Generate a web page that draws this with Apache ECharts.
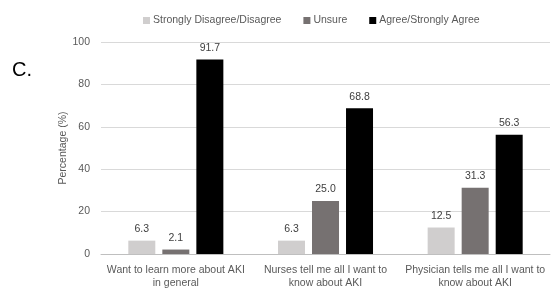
<!DOCTYPE html>
<html><head><meta charset="utf-8">
<script src="https://cdn.jsdelivr.net/npm/echarts@6/dist/echarts.min.js"></script>
<style>html,body{margin:0;padding:0;background:#fff}#c{width:554px;height:290px}</style>
</head><body><div id="c"></div>
<script>
const categories = ['Want to learn more about AKI\nin general', 'Nurses tell me all I want to\nknow about AKI', 'Physician tells me all I want to\nknow about AKI'];
const seriesNames = ['Strongly Disagree/Disagree', 'Unsure', 'Agree/Strongly Agree'];
const disagree = [6.3, 6.3, 12.5];
const unsure = [2.1, 25.0, 31.3];
const agree = [91.7, 68.8, 56.3];
const yTicks = [0, 20, 40, 60, 80, 100];

const colors = ['#d0cece', '#767171', '#000000'];
const font = 'Liberation Sans, sans-serif';
const chart = echarts.init(document.getElementById('c'), null, {renderer: 'canvas'});
const mk = (name, data, i) => ({
  name, type: 'bar', data, barWidth: 27, barGap: '26%',
  itemStyle: {color: colors[i]},
  label: {show: true, position: 'top', distance: 6, formatter: p => p.value.toFixed(1), color: '#404040', fontSize: 10.5, fontFamily: font}
});
chart.setOption({
  animation: false,
  textStyle: {fontFamily: font},
  graphic: [{type: 'text', left: 12, top: 60, style: {text: 'C.', font: '20px Liberation Sans, sans-serif', fill: '#000'}}],
  legend: {
    top: 10, left: 138, itemWidth: 7, itemHeight: 7, itemGap: 22,
    icon: 'rect', data: seriesNames,
    textStyle: {color: '#595959', fontSize: 10.5, fontFamily: font, padding: [0, 0, 0, -2]}
  },
  grid: {left: 101, right: 4, top: 42, bottom: 33},
  xAxis: {
    type: 'category', data: categories,
    axisLine: {lineStyle: {color: '#bfbfbf'}}, axisTick: {show: false},
    axisLabel: {color: '#595959', fontSize: 10.5, lineHeight: 13, margin: 10, interval: 0, fontFamily: font}
  },
  yAxis: {
    type: 'value', min: 0, max: 100, interval: 20,
    name: 'Percentage (%)', nameLocation: 'middle', nameGap: 32, nameRotate: 90, nameMoveOverlap: false,
    nameTextStyle: {color: '#595959', fontSize: 10.5, fontFamily: font},
    axisLabel: {color: '#595959', fontSize: 10.5, margin: 11, fontFamily: font,
      formatter: v => yTicks.includes(v) ? String(v) : ''},
    splitLine: {lineStyle: {color: '#d9d9d9'}},
    axisLine: {show: false}, axisTick: {show: false}
  },
  series: [mk(seriesNames[0], disagree, 0), mk(seriesNames[1], unsure, 1), mk(seriesNames[2], agree, 2)]
});
</script></body></html>
